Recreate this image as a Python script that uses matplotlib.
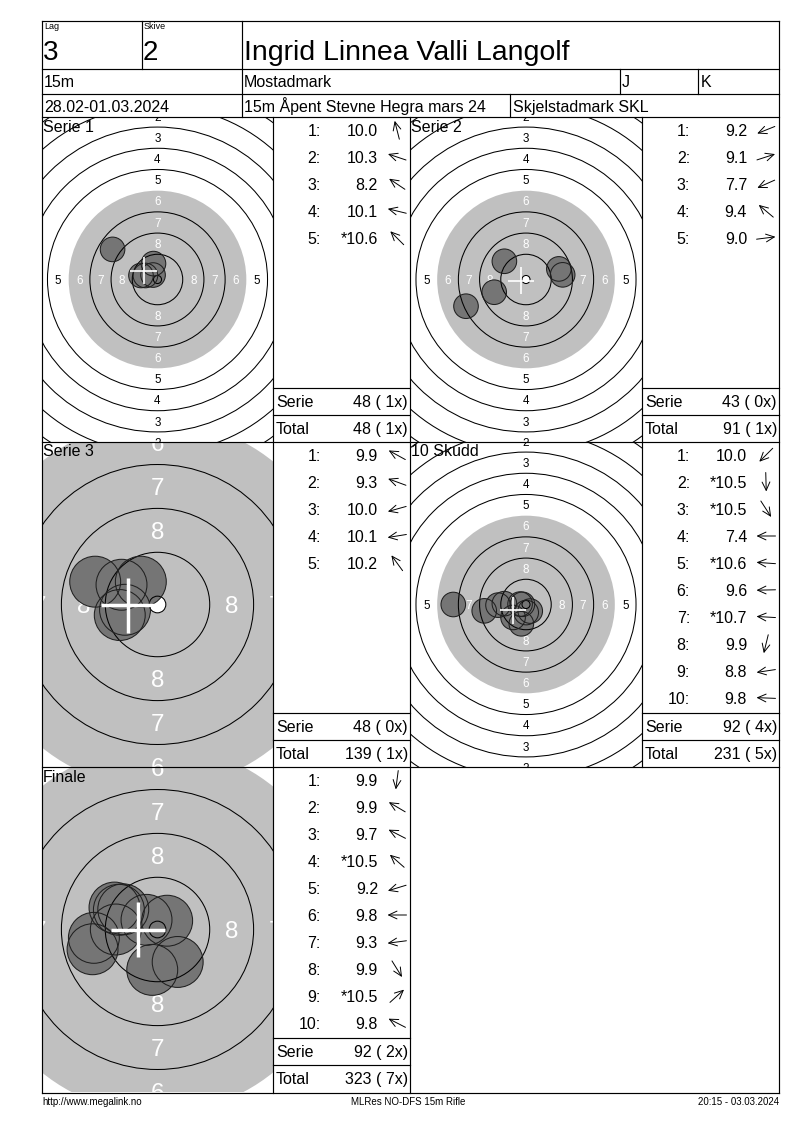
import math
import matplotlib
matplotlib.use("Agg")
import matplotlib.pyplot as plt
from matplotlib.patches import Circle

plt.rcParams['font.family'] = ['Liberation Sans', 'DejaVu Sans']

# ---------------- data ----------------
lag = "3"
skive = "2"
shooter = "Ingrid Linnea Valli Langolf"
distance = "15m"
club = "Mostadmark"
class_j = "J"
class_k = "K"
dates = "28.02-01.03.2024"
event = "15m Åpent Stevne Hegra mars 24"
venue = "Skjelstadmark SKL"
footer_left = "http://www.megalink.no"
footer_mid = "MLRes NO-DFS 15m Rifle"
footer_right = "20:15 - 03.03.2024"

panel_titles = ["Serie 1", "Serie 2", "Serie 3", "10 Skudd", "Finale"]

# shot values (strings as printed; * = inner ten)
s1_vals = ["10.0", "10.3", "8.2", "10.1", "*10.6"]
s2_vals = ["9.2", "9.1", "7.7", "9.4", "9.0"]
s3_vals = ["9.9", "9.3", "10.0", "10.1", "10.2"]
sk_vals = ["10.0", "*10.5", "*10.5", "7.4", "*10.6", "9.6", "*10.7", "9.9", "8.8", "9.8"]
fin_vals = ["9.9", "9.9", "9.7", "*10.5", "9.2", "9.8", "9.3", "9.9", "*10.5", "9.8"]

# shot impact coordinates (in ring widths, origin at target centre, y up)
s1_x = [-0.19, -0.57, -2.12, -0.78, -0.21]
s1_y = [0.75, 0.19, 1.42, 0.19, 0.21]
s2_x = [-1.50, 1.55, -2.83, -1.02, 1.73]
s2_y = [-0.60, 0.50, -1.26, 0.86, 0.22]
s3_x = [-0.82, -1.42, -0.86, -0.74, -0.38]
s3_y = [0.45, 0.52, -0.24, -0.12, 0.52]
sk_x = [-0.61, 0.01, 0.20, -3.43, -0.28, -1.32, -0.17, -0.22, -1.97, -1.02]
sk_y = [-0.61, -0.38, -0.31, 0.00, 0.02, -0.03, 0.01, -0.91, -0.30, 0.04]
fin_x = [-0.12, -0.78, -0.98, -0.25, -1.48, -0.95, -1.45, 0.46, 0.22, -0.88]
fin_y = [-0.92, 0.46, 0.50, 0.22, -0.45, 0.00, -0.19, -0.74, 0.20, 0.45]

# mean point of impact (white cross)
s1_mpi = (-0.66, 0.42)
s2_mpi = (-0.24, -0.05)
s3_mpi = (-0.67, -0.02)
sk_mpi = (-0.63, -0.28)
fin_mpi = (-0.44, 0.00)

serie_sums = ["48 ( 1x)", "43 ( 0x)", "48 ( 0x)", "92 ( 4x)", "92 ( 2x)"]
total_sums = ["48 ( 1x)", "91 ( 1x)", "139 ( 1x)", "231 ( 5x)", "323 ( 7x)"]

# ---------------- layout ----------------
W, H = 800, 1130
fig = plt.figure(figsize=(W / 100, H / 100), dpi=100)

LEFT, RIGHT = 42, 779
TOP = 21
BOTTOM = 1093
PANEL_TOPS = [117, 442, 767]
PANEL_H = 325
TGT_COLS = [(42, 273), (410, 642)]
SCORE_COLS = [(273, 410), (642, 779)]

PX_PER_RING = 21.2
R10 = 0.19
ring_r = {k: R10 + (10 - k) for k in range(1, 11)}
SHOT_R = 0.58
CROSS_HALF = 0.62
GREY = '#c0c0c0'
SHOT_FILL = '#757575'
ZOOM_IN = 2.07


def target_axes(x0, x1, y0, zoom):
    w = x1 - x0
    h = PANEL_H
    ax = fig.add_axes([x0 / W, 1 - (y0 + h) / H, w / W, h / H])
    s = PX_PER_RING * zoom
    ax.set_xlim(-w / 2 / s, w / 2 / s)
    ax.set_ylim(-h / 2 / s, h / 2 / s)
    ax.axis('off')
    return ax


def draw_target(ax, xs, ys, mpi, zoom):
    fs = 8.4 * zoom
    cap = 0.716 * fs * 100 / 72 / (PX_PER_RING * zoom)
    ax.add_patch(Circle((0, 0), ring_r[6], fc=GREY, ec='none', zorder=1))
    ax.add_patch(Circle((0, 0), ring_r[10], fc='white', ec='none', zorder=2))
    for k in range(1, 9):
        m = ring_r[k] - 0.5
        col = 'white' if k >= 6 else 'black'
        for px, py in [(0, m), (0, -m), (m, 0), (-m, 0)]:
            ax.text(px, py - cap / 2, str(k), color=col, fontsize=fs,
                    ha='center', va='baseline', zorder=3, clip_on=True)
    for x, y in zip(xs, ys):
        ax.add_patch(Circle((x, y), SHOT_R, fc=SHOT_FILL, ec='none', zorder=4))
    for k, r in ring_r.items():
        if k == 6:
            continue
        ax.add_patch(Circle((0, 0), r, fc='none', ec='black', lw=0.75, zorder=5))
    for x, y in zip(xs, ys):
        ax.add_patch(Circle((x, y), SHOT_R, fc='none', ec='#202020', lw=0.75, zorder=6))
    mx, my = mpi
    lw = 1.2 * zoom
    ax.plot([mx - CROSS_HALF, mx + CROSS_HALF], [my, my], color='white', lw=lw,
            zorder=7, solid_capstyle='butt')
    ax.plot([mx, mx], [my - CROSS_HALF, my + CROSS_HALF], color='white', lw=lw,
            zorder=7, solid_capstyle='butt')


panels = [
    (s1_x, s1_y, s1_mpi, s1_vals, 0, 0, 1.0),
    (s2_x, s2_y, s2_mpi, s2_vals, 0, 1, 1.0),
    (s3_x, s3_y, s3_mpi, s3_vals, 1, 0, ZOOM_IN),
    (sk_x, sk_y, sk_mpi, sk_vals, 1, 1, 1.0),
    (fin_x, fin_y, fin_mpi, fin_vals, 2, 0, ZOOM_IN),
]

for xs, ys, mpi, vals, row, col, zoom in panels:
    x0, x1 = TGT_COLS[col]
    ax = target_axes(x0, x1, PANEL_TOPS[row], zoom)
    draw_target(ax, xs, ys, mpi, zoom)

# ---------------- overlay (table, text) ----------------
ov = fig.add_axes([0, 0, 1, 1], zorder=10)
ov.set_xlim(0, W)
ov.set_ylim(H, 0)
ov.axis('off')
ov.patch.set_alpha(0)

LW = 0.85


def hline(x0, x1, y):
    ov.plot([x0, x1], [y, y], color='black', lw=LW, solid_capstyle='projecting')


def vline(x, y0, y1):
    ov.plot([x, x], [y0, y1], color='black', lw=LW, solid_capstyle='projecting')


# outer frame
hline(LEFT, RIGHT, TOP)
hline(LEFT, RIGHT, BOTTOM)
vline(LEFT, TOP, BOTTOM)
vline(RIGHT, TOP, BOTTOM)
# header
hline(LEFT, RIGHT, 69)
hline(LEFT, RIGHT, 94)
hline(LEFT, RIGHT, 117)
vline(142, TOP, 69)
vline(242, TOP, 117)
vline(620, 69, 94)
vline(698, 69, 94)
vline(510, 94, 117)
# panels
hline(LEFT, RIGHT, 442)
hline(LEFT, RIGHT, 767)
vline(273, 117, BOTTOM)
vline(410, 117, BOTTOM)
vline(642, 117, 767)

FS = 11.5
ov.text(44, 22, "Lag", fontsize=6.5, va='top', ha='left')
ov.text(144, 22, "Skive", fontsize=6.5, va='top', ha='left')
ov.text(43, 60, lag, fontsize=20, va='baseline', ha='left')
ov.text(143, 60, skive, fontsize=20, va='baseline', ha='left')
ov.text(244, 60, shooter, fontsize=20.5, va='baseline', ha='left')
ov.text(44, 87, distance, fontsize=FS, va='baseline')
ov.text(244, 87, club, fontsize=FS, va='baseline')
ov.text(622, 87, class_j, fontsize=FS, va='baseline')
ov.text(701, 87, class_k, fontsize=FS, va='baseline')
ov.text(44, 112, dates, fontsize=FS, va='baseline')
ov.text(244, 112, event, fontsize=FS, va='baseline')
ov.text(513, 112, venue, fontsize=FS, va='baseline')

# score columns
for (xs, ys, mpi, vals, row, col, zoom), title, ssum, tsum in zip(
        panels, panel_titles, serie_sums, total_sums):
    top = PANEL_TOPS[row]
    tx0 = TGT_COLS[col][0]
    cx0, cx1 = SCORE_COLS[col]
    ov.text(tx0 + 1, top + 14.5, title, fontsize=FS, va='baseline', ha='left')
    for i, (v, x, y) in enumerate(zip(vals, xs, ys)):
        yc = top + 13 + 27 * i
        ov.text(cx0 + 48, yc + 5.7, f"{i + 1}:", fontsize=FS, ha='right', va='baseline')
        ov.text(cx0 + 105, yc + 5.7, v, fontsize=FS, ha='right', va='baseline')
        a = math.atan2(y, x)
        dx, dy = math.cos(a) * 9.5, -math.sin(a) * 9.5
        ax_c = cx0 + 124
        ov.annotate('', xy=(ax_c + dx, yc + dy), xytext=(ax_c - dx, yc - dy),
                    arrowprops=dict(arrowstyle='->,head_length=0.6,head_width=0.28',
                                    lw=0.7, color='black', shrinkA=0, shrinkB=0,
                                    mutation_scale=10))
    hline(cx0, cx1, top + 271)
    hline(cx0, cx1, top + 298)
    ov.text(cx0 + 3, top + 290, "Serie", fontsize=FS, va='baseline', ha='left')
    ov.text(cx1 - 2, top + 290, ssum, fontsize=FS, va='baseline', ha='right')
    ov.text(cx0 + 3, top + 317, "Total", fontsize=FS, va='baseline', ha='left')
    ov.text(cx1 - 2, top + 317, tsum, fontsize=FS, va='baseline', ha='right')

# footer
ov.text(LEFT, 1105, footer_left, fontsize=7, va='baseline', ha='left')
ov.text(408, 1105, footer_mid, fontsize=7, va='baseline', ha='center')
ov.text(RIGHT, 1105, footer_right, fontsize=7, va='baseline', ha='right')

fig.savefig("out.png", dpi=100, facecolor='white')
